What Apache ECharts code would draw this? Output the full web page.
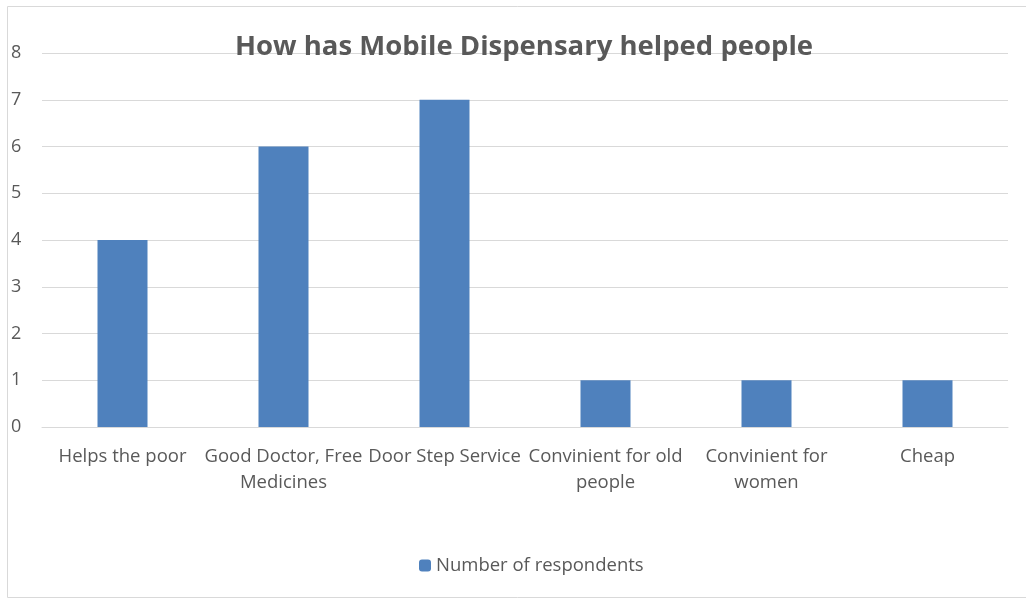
<!DOCTYPE html>
<html>
<head>
<meta charset="utf-8">
<script src="https://cdn.jsdelivr.net/npm/echarts@6/dist/echarts.min.js"></script>
<style>
  html, body { margin: 0; padding: 0; background: #fff; }
  #chart { width: 1026px; height: 601px; }
</style>
</head>
<body>
<div id="chart"></div>
<script>
const categories = ['Helps the poor', 'Good Doctor, Free\nMedicines', 'Door Step Service', 'Convinient for old\npeople', 'Convinient for\nwomen', 'Cheap'];
const respondents = [4, 6, 7, 1, 1, 1];
const seriesName = 'Number of respondents';

const chart = echarts.init(document.getElementById('chart'));
chart.setOption({
  textStyle: { fontFamily: '"Open Sans", Lato, sans-serif' },
  graphic: [{
    type: 'rect',
    shape: { x: 7.5, y: 6.5, width: 1030, height: 591 },
    style: { fill: 'none', stroke: '#d9d9d9', lineWidth: 1 },
    silent: true
  }],
  title: {
    text: 'How has Mobile Dispensary helped people',
    left: 230,
    top: 28,
    textStyle: { fontSize: 27.5, fontWeight: 'bold', color: '#595959' }
  },
  legend: {
    bottom: 21,
    left: 414,
    itemWidth: 12,
    itemHeight: 12,
    itemGap: 5,
    textStyle: { fontSize: 18.5, color: '#595959' },
    data: [seriesName]
  },
  grid: { left: 42, right: 18, top: 53, bottom: 174 },
  xAxis: {
    type: 'category',
    data: categories,
    axisLine: { lineStyle: { color: '#d9d9d9' } },
    axisTick: { show: false },
    axisLabel: { color: '#595959', fontSize: 18.5, margin: 17, lineHeight: 26, interval: 0 }
  },
  yAxis: {
    type: 'value',
    min: 0,
    max: 8,
    interval: 1,
    axisLine: { show: false },
    axisTick: { show: false },
    axisLabel: { color: '#595959', fontSize: 18, margin: 31, align: 'left' },
    splitLine: { lineStyle: { color: '#d9d9d9' } }
  },
  series: [{
    name: seriesName,
    type: 'bar',
    data: respondents,
    barWidth: 50,
    itemStyle: { color: '#4f81bd' }
  }]
});
</script>
</body>
</html>
